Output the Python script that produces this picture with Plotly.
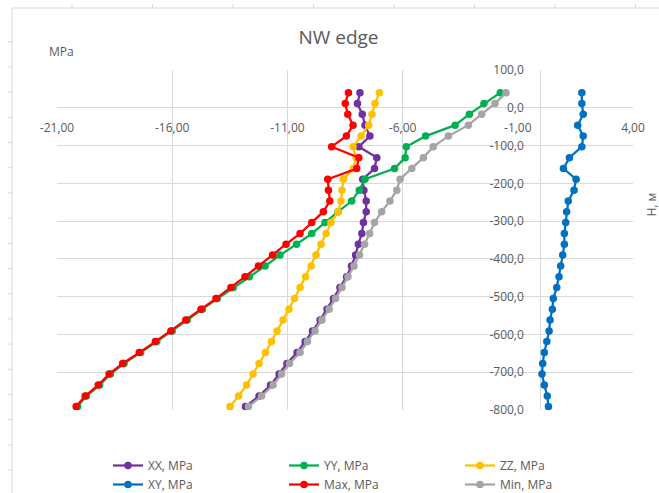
import plotly.graph_objects as go

# Elevation H, m (y values)
H = [40, 11, -17, -46, -75, -103, -132, -161, -189, -218, -247, -275, -304, -333, -361,
     -390, -419, -447, -476, -505, -533, -562, -591, -619, -648, -677, -705, -734, -763, -791]

XX = [-7.85, -7.96, -7.75, -7.63, -7.42, -7.90, -7.12, -7.22, -7.73, -7.68, -7.58, -7.58, -7.70, -7.77, -7.92,
      -8.04, -8.22, -8.43, -8.72, -9.00, -9.28, -9.58, -9.91, -10.23, -10.58, -11.02, -11.36, -11.73, -12.23, -12.82]
YY = [-1.76, -2.47, -3.10, -3.72, -5.00, -5.84, -5.89, -6.35, -7.63, -7.88, -8.21, -8.80, -9.37, -9.94, -10.60,
      -11.32, -11.97, -12.65, -13.35, -14.04, -14.69, -15.35, -16.00, -16.67, -17.37, -18.09, -18.68, -19.15, -19.72, -20.11]
ZZ = [-7.01, -7.20, -7.33, -7.47, -7.80, -8.15, -8.02, -8.14, -8.57, -8.63, -8.67, -8.80, -9.11, -9.32, -9.54,
      -9.76, -9.97, -10.21, -10.45, -10.69, -10.93, -11.19, -11.45, -11.69, -11.95, -12.23, -12.49, -12.77, -13.12, -13.49]
XY = [1.78, 1.78, 1.84, 1.60, 1.84, 1.78, 1.24, 0.98, 1.53, 1.44, 1.19, 1.12, 1.08, 1.02, 1.02,
      0.95, 0.86, 0.79, 0.69, 0.54, 0.50, 0.40, 0.36, 0.26, 0.15, 0.08, 0.05, 0.15, 0.28, 0.33]
MAX = [-8.35, -8.49, -8.38, -8.15, -8.44, -9.08, -7.90, -7.99, -9.25, -9.22, -9.16, -9.44, -9.94, -10.45, -11.06,
       -11.64, -12.26, -12.84, -13.45, -14.10, -14.75, -15.41, -16.06, -16.73, -17.43, -18.15, -18.74, -19.21, -19.78, -20.17]
MIN = [-1.51, -1.99, -2.57, -3.15, -4.01, -4.67, -5.10, -5.60, -6.11, -6.25, -6.55, -6.91, -7.22, -7.43, -7.65,
       -7.87, -8.11, -8.37, -8.63, -8.91, -9.19, -9.50, -9.80, -10.13, -10.45, -10.91, -11.25, -11.62, -12.12, -12.69]

SERIES_NAMES = ["XX, MPa", "YY, MPa", "ZZ, MPa", "XY, MPa", "Max, MPa", "Min, MPa"]
COLORS = ["#7030A0", "#00B050", "#FFC000", "#0070C0", "#FF0000", "#A5A5A5"]

X_TICKS = [-21, -16, -11, -6, -1, 4]
X_TICK_TEXT = ["-21,00", "-16,00", "-11,00", "-6,00", "-1,00", "4,00"]
X_GRID = [-21, -16, -11, -6, 4]
Y_TICKS = [100, 0, -100, -200, -300, -400, -500, -600, -700, -800]
Y_TICK_TEXT = ["100,0", "0,0", "-100,0", "-200,0", "-300,0", "-400,0", "-500,0", "-600,0", "-700,0", "-800,0"]

X_RANGE = [-21, 4]
Y_RANGE = [-800, 100]

FONT = "Open Sans"
GRAY_TXT = "#595959"
GRID = "#D9D9D9"

W, HGT = 659, 493
L, R, T, B = 57, 26, 70, 83

fig = go.Figure()
for name, vals, col in zip(SERIES_NAMES, [XX, YY, ZZ, XY, MAX, MIN], COLORS):
    fig.add_trace(go.Scatter(
        x=vals, y=H, name=name, mode="lines+markers",
        line=dict(color=col, width=2.25),
        marker=dict(color=col, size=7.5),
    ))

# invisible trace to carry gridline axis
fig.add_trace(go.Scatter(x=[None], y=[None], xaxis="x2", showlegend=False, hoverinfo="skip"))

x_pos = (0 - Y_RANGE[0]) / (Y_RANGE[1] - Y_RANGE[0])
y_pos = (0 - X_RANGE[0]) / (X_RANGE[1] - X_RANGE[0])

fig.update_layout(
    width=W, height=HGT,
    margin=dict(l=L, r=R, t=T, b=B, autoexpand=False),
    paper_bgcolor="white", plot_bgcolor="white",
    font=dict(family=FONT, size=12, color=GRAY_TXT),
    title=dict(text="NW edge", x=338.5 / W, xanchor="center", y=1 - 37 / HGT, yanchor="middle",
               font=dict(family=FONT, size=19, color=GRAY_TXT)),
    xaxis=dict(range=X_RANGE, tickvals=X_TICKS, ticktext=X_TICK_TEXT, showgrid=False,
               zeroline=True, zerolinecolor=GRID, zerolinewidth=1,
               anchor="free", position=x_pos, side="bottom", ticks="", showline=False,
               ticklabelstandoff=11, tickfont=dict(size=12, color=GRAY_TXT)),
    xaxis2=dict(range=X_RANGE, overlaying="x", tickvals=X_GRID, showticklabels=False,
                showgrid=True, gridcolor=GRID, gridwidth=1, zeroline=False, ticks="",
                anchor="y", side="bottom"),
    yaxis=dict(range=Y_RANGE, tickvals=Y_TICKS, ticktext=Y_TICK_TEXT, showgrid=True,
               gridcolor=GRID, gridwidth=1, zeroline=True, zerolinecolor=GRID, zerolinewidth=1,
               anchor="free", position=y_pos, side="left", ticks="", showline=False,
               ticklabelstandoff=17, tickfont=dict(size=12, color=GRAY_TXT)),
    legend=dict(orientation="h", xref="container", yref="container",
                x=108 / W, y=1 - 451 / HGT, xanchor="left", yanchor="top",
                entrywidth=131, font=dict(size=12, color=GRAY_TXT), bgcolor="rgba(0,0,0,0)",
                itemwidth=30, tracegroupgap=0),
    showlegend=True,
)

fig.add_annotation(text="Н, м", xref="paper", yref="paper", x=(640 - L) / 576, y=(410 - 205) / 340,
                   xanchor="left", yanchor="middle", showarrow=False, textangle=-90,
                   font=dict(family=FONT, size=12, color=GRAY_TXT))
fig.add_annotation(text="MPa", xref="paper", yref="paper", x=(47 - L) / 576, y=(410 - 52) / 340,
                   xanchor="left", yanchor="middle", showarrow=False,
                   font=dict(family=FONT, size=12, color=GRAY_TXT))

# outer chart frame (spreadsheet look)
def px2x(px):
    return (px - L) / 576

def py2y(py):
    return (410 - py) / 340

FRAME = "#D9D9D9"
fig.add_shape(type="line", xref="paper", yref="paper", x0=px2x(12), x1=px2x(659), y0=py2y(8), y1=py2y(8),
              line=dict(color=FRAME, width=1))
fig.add_shape(type="line", xref="paper", yref="paper", x0=px2x(12), x1=px2x(12), y0=py2y(8), y1=py2y(493),
              line=dict(color=FRAME, width=1))
for k in range(18):
    yy = 41.7 + 25.2 * k
    fig.add_shape(type="line", xref="paper", yref="paper", x0=px2x(8), x1=px2x(12), y0=py2y(yy), y1=py2y(yy),
                  line=dict(color=FRAME, width=1))
for k in range(8):
    xx = 72 + 80.5 * k
    fig.add_shape(type="line", xref="paper", yref="paper", x0=px2x(xx), x1=px2x(xx), y0=py2y(4), y1=py2y(8),
                  line=dict(color=FRAME, width=1))

fig.write_html("out.html", config={"displayModeBar": False},
               post_script="document.body.style.margin='0';document.body.style.overflow='hidden';")
